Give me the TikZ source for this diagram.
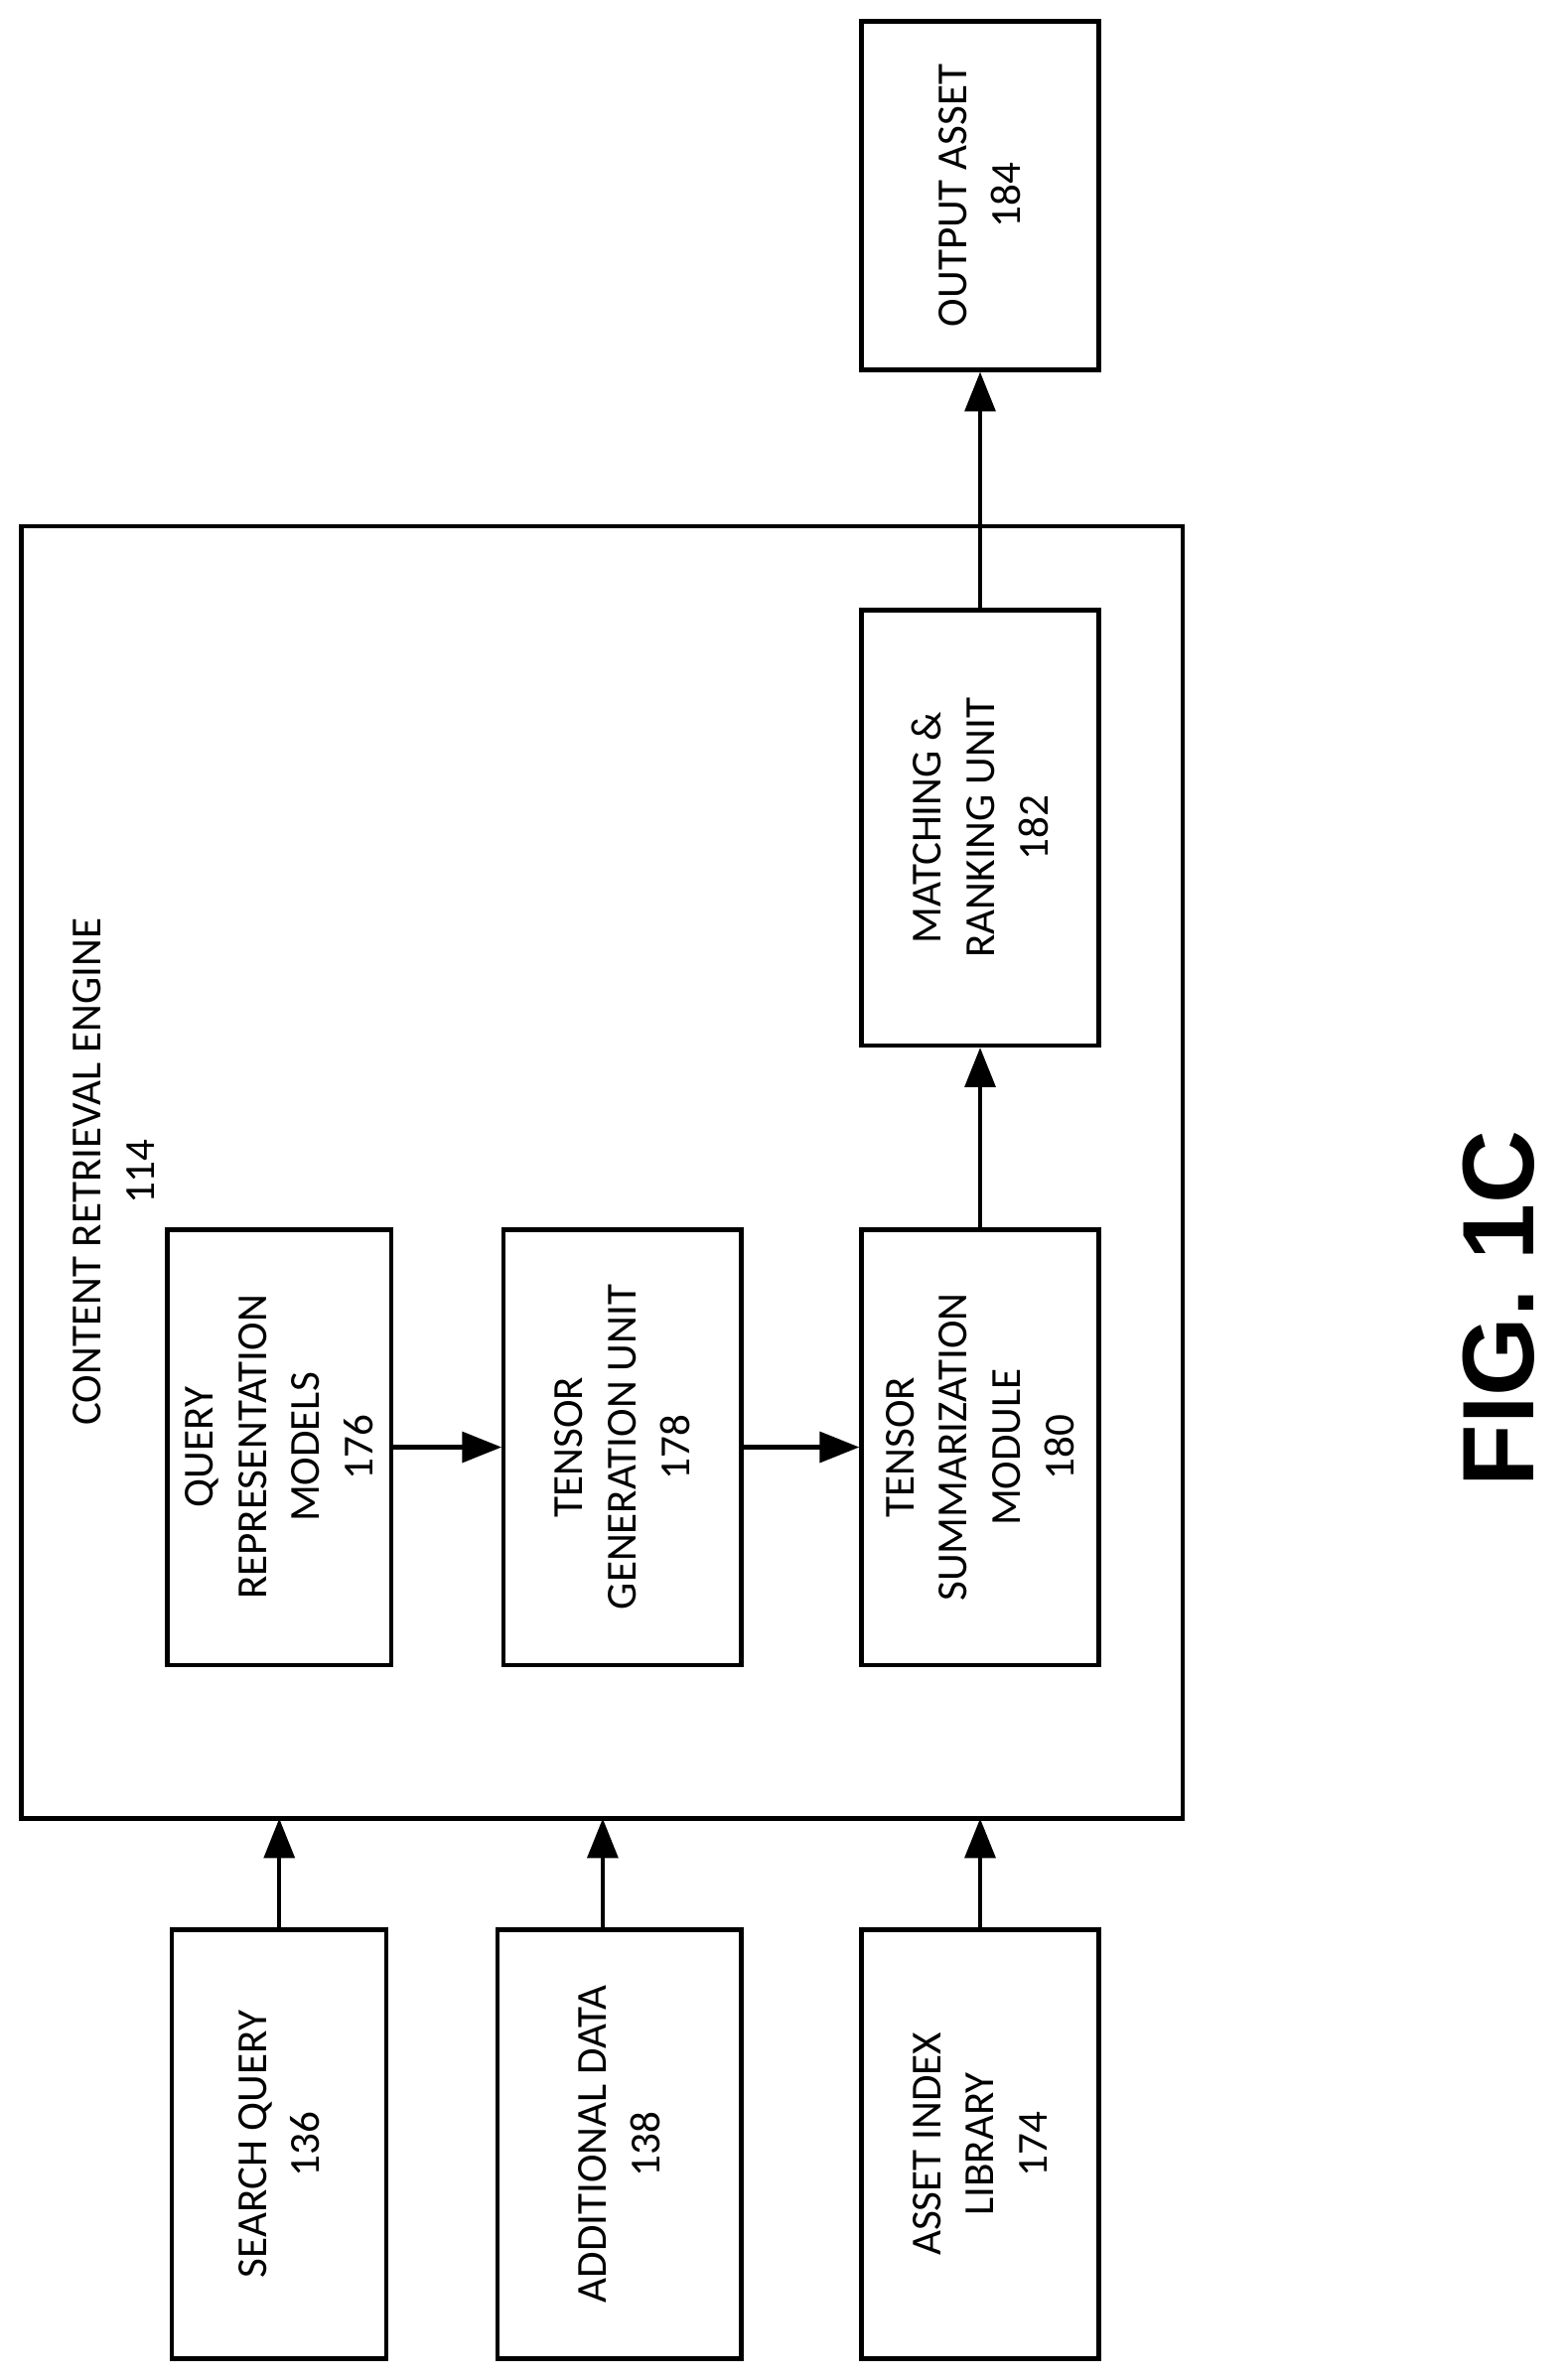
\documentclass[tikz,border=0pt]{standalone}
\usepackage{fontspec}
\setmainfont{Carlito}
\newfontfamily\figfont{Liberation Sans}
\usetikzlibrary{arrows.meta}
\tikzset{
  unit/.style={draw, line width=0.8pt, rotate=90, align=center, font=\fontsize{8}{10}\selectfont},
  feed/.style={-{Triangle[length=2.6mm,width=2mm]}, line width=0.8pt}
}
\begin{document}
\begin{tikzpicture}[x=0.1mm, y=-0.1mm]
\useasboundingbox (0,0) rectangle (1030,1564);
% engine
\draw[line width=0.8pt] (14,346) rectangle (777,1195);
\node[rotate=90, align=center, font=\fontsize{8}{10}\selectfont] (engine) at (75,770) {CONTENT RETRIEVAL ENGINE\\114};
% inner units
\node[unit, minimum width=28.6mm, minimum height=14.1mm] (query) at (183.5,951) {QUERY\\REPRESENTATION\\MODELS\\176};
\node[unit, minimum width=28.6mm, minimum height=15.6mm] (tgen) at (409,951) {TENSOR\\GENERATION UNIT\\178};
\node[unit, minimum width=28.6mm, minimum height=15.6mm] (tsum) at (644,951) {TENSOR\\SUMMARIZATION\\MODULE\\180};
\node[unit, minimum width=28.6mm, minimum height=15.6mm] (match) at (644,544) {MATCHING \&\\RANKING UNIT\\182};
\node[unit, minimum width=22.9mm, minimum height=15.6mm] (output) at (644,128.5) {OUTPUT ASSET\\184};
% inputs
\node[unit, minimum width=28.2mm, minimum height=14.1mm] (search) at (183.5,1409) {SEARCH QUERY\\136};
\node[unit, minimum width=28.2mm, minimum height=16mm] (additional) at (407,1409) {ADDITIONAL DATA\\138};
\node[unit, minimum width=28.2mm, minimum height=15.6mm] (library) at (644,1409) {ASSET INDEX\\LIBRARY\\174};
\coordinate (in1) at (183.5,1195);
\coordinate (in2) at (396,1195);
\coordinate (in3) at (644,1195);
% connectors
\draw[feed] (query) -- (tgen);
\draw[feed] (tgen) -- (tsum);
\draw[feed] (tsum) -- (match);
\draw[feed] (match) -- (output);
\draw[feed] (search.east) -- (in1);
\draw[feed] (additional.east -| in2) -- (in2);
\draw[feed] (library) -- (in3);
\node[rotate=90, font=\figfont\bfseries\fontsize{19}{22}\selectfont] (fig) at (985,860) {FIG. 1C};
\end{tikzpicture}
\end{document}
